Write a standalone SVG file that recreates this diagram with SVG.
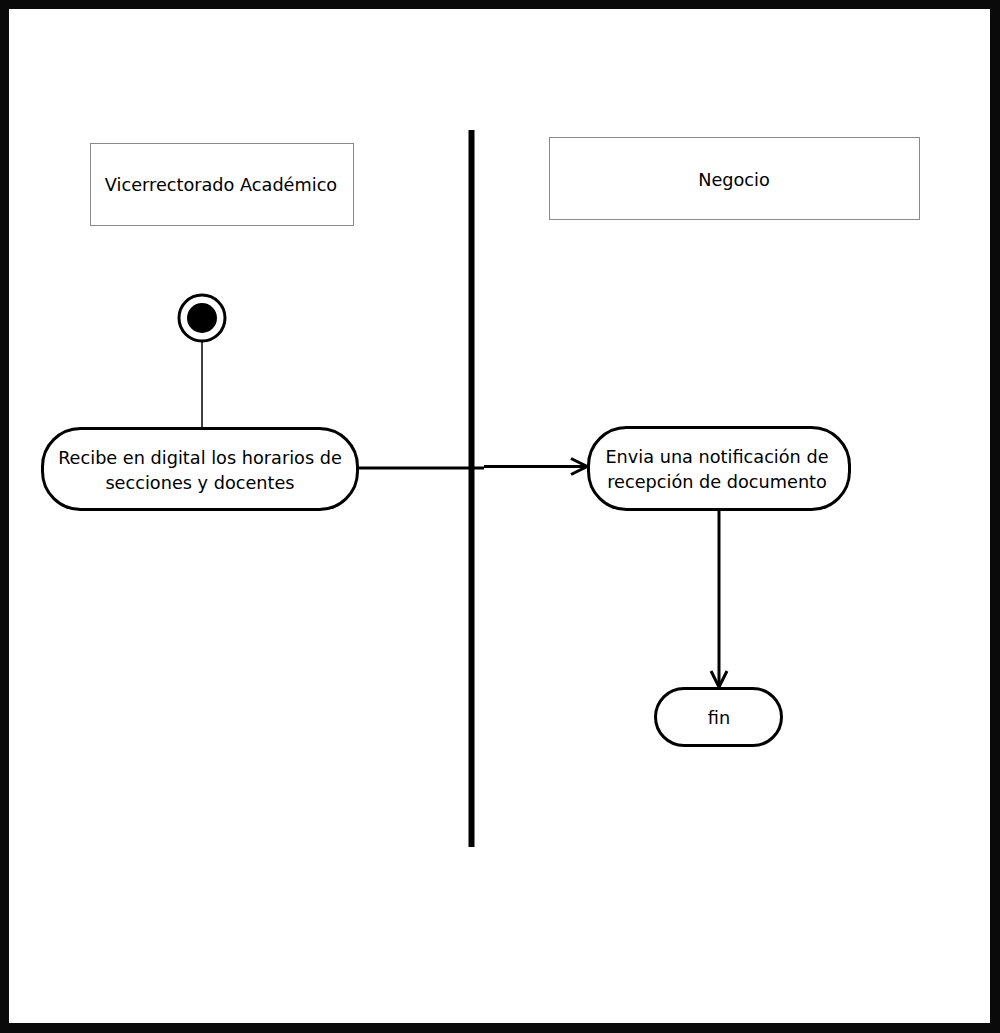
<svg xmlns="http://www.w3.org/2000/svg" width="1000" height="1033" viewBox="0 0 1000 1033">
  <defs>
    <style>
      .lane { fill: #ffffff; stroke: #8a8a8a; stroke-width: 1; }
      .act { fill: #ffffff; stroke: #000000; stroke-width: 3; }
      .lbl { font-family: "DejaVu Sans", Verdana, sans-serif; font-size: 17.7px; fill: #000000; text-anchor: middle; }
      .flow { fill: none; stroke: #000000; stroke-width: 3; }
    </style>
    <marker id="open" viewBox="0 0 20 20" refX="18" refY="10" markerWidth="20" markerHeight="20" markerUnits="userSpaceOnUse" orient="auto">
      <path d="M2,2 L18,10 L2,18" fill="none" stroke="#000000" stroke-width="3"/>
    </marker>
  </defs>

  <!-- frame -->
  <rect x="0" y="0" width="1000" height="1033" fill="#0a0a0a"/>
  <rect x="9" y="9" width="981" height="1014" fill="#ffffff"/>

  <!-- swimlane divider -->
  <rect x="468.5" y="130" width="6" height="717" fill="#000000"/>

  <!-- lane headers -->
  <g id="lane-vicerrectorado">
    <rect class="lane" x="90.5" y="143.5" width="263" height="82"/>
    <text class="lbl" x="221" y="191">Vicerrectorado Académico</text>
  </g>
  <g id="lane-negocio">
    <rect class="lane" x="549.5" y="137.5" width="370" height="82"/>
    <text class="lbl" x="734" y="186">Negocio</text>
  </g>

  <!-- connectors -->
  <g id="connectors">
    <line x1="202" y1="342" x2="202" y2="428" stroke="#000000" stroke-width="1.5"/>
    <path class="flow" d="M358,468 L484,468"/>
    <path class="flow" d="M484,466.5 L587,466.5" marker-end="url(#open)"/>
    <path class="flow" d="M719,510 L719,687" marker-end="url(#open)"/>
  </g>

  <!-- initial node -->
  <g id="start">
    <circle cx="202" cy="318" r="23" fill="#ffffff" stroke="#000000" stroke-width="3"/>
    <circle cx="202" cy="318" r="15" fill="#000000"/>
  </g>

  <g id="recibe">
    <rect class="act" x="42.5" y="428.5" width="315" height="81" rx="38" ry="38"/>
    <text class="lbl" x="200" y="464">Recibe en digital los horarios de</text>
    <text class="lbl" x="200" y="489">secciones y docentes</text>
  </g>

  <g id="envia">
    <rect class="act" x="588.5" y="427.5" width="261" height="82" rx="38" ry="38"/>
    <text class="lbl" x="717" y="463">Envia una notificación de</text>
    <text class="lbl" x="717" y="488">recepción de documento</text>
  </g>

  <g id="fin">
    <rect class="act" x="655.5" y="688.5" width="126" height="57" rx="28.5" ry="28.5"/>
    <text class="lbl" x="719" y="724">fin</text>
  </g>
</svg>
